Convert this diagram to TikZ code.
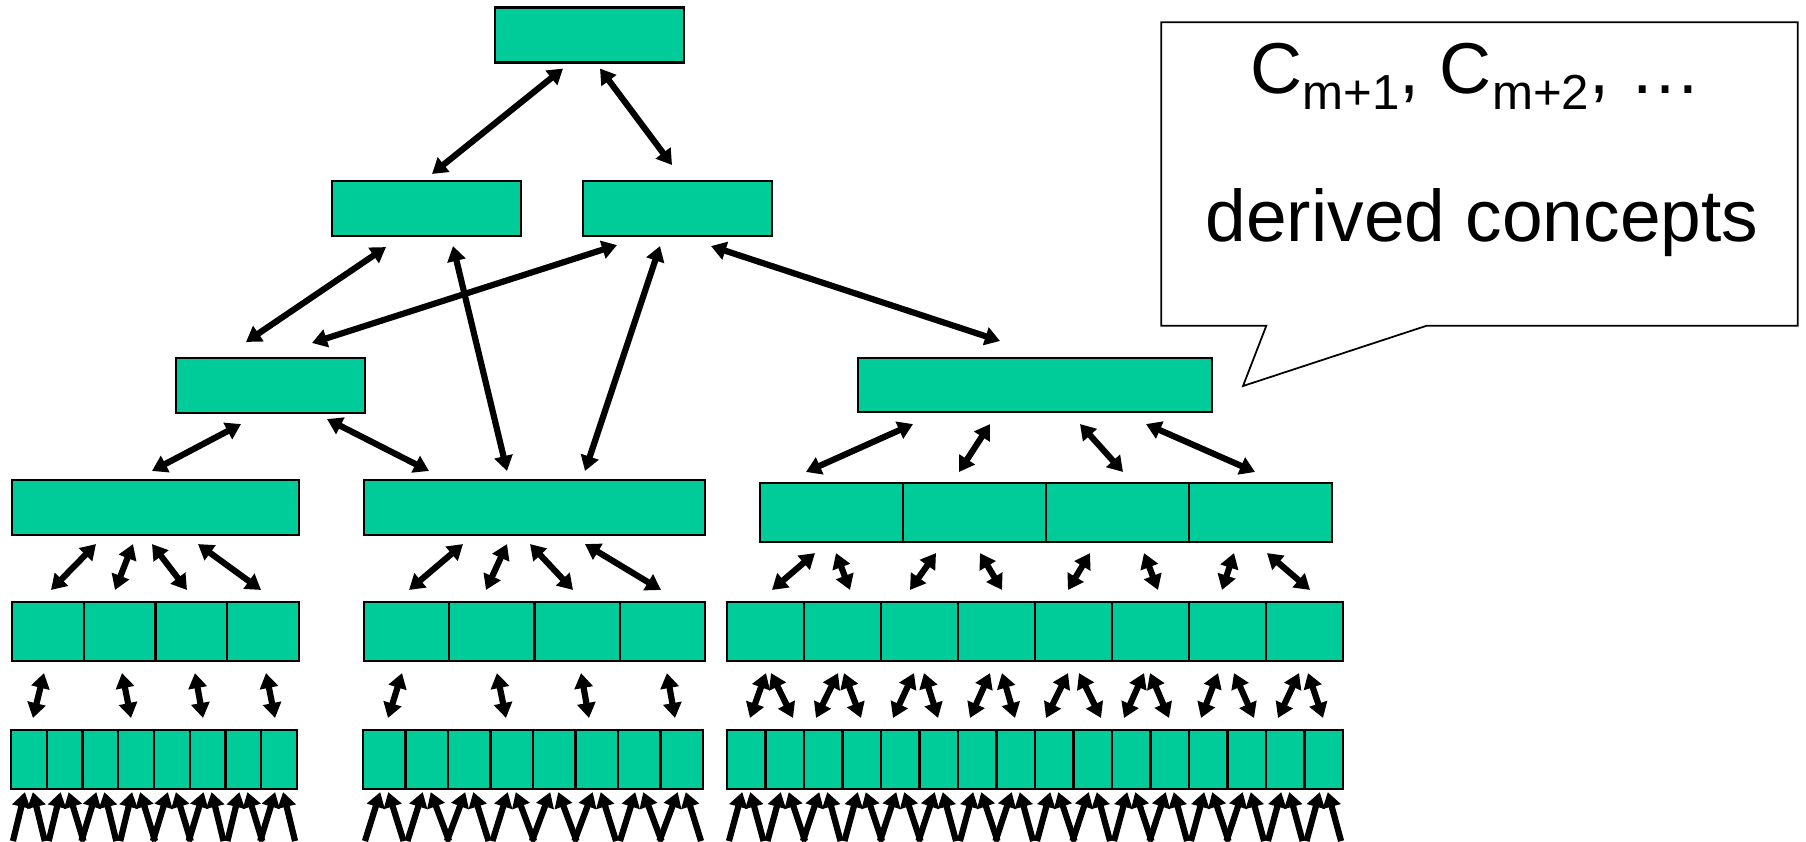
\documentclass[tikz,border=0pt]{standalone}
\usepackage{fontspec}
\setmainfont{Liberation Sans}
\usepackage{tikz}
\usetikzlibrary{arrows.meta}
\definecolor{cellgreen}{HTML}{00CC99}
\newcommand{\subtxt}[1]{\raisebox{-4.6pt}{\fontsize{14}{16}\selectfont #1}}

\begin{document}
\begin{tikzpicture}[x=0.1mm, y=-0.1mm]

  % Define cell and arrow styles
  \tikzset{cell/.style={draw, fill=cellgreen, line width=0.6pt, inner sep=0pt, minimum height=5.5mm},
    link/.style={line width=0.62mm, {Triangle[length=1.5mm,width=1.8mm]}-{Triangle[length=1.5mm,width=1.8mm]}},
    feed/.style={line width=0.62mm, -{Triangle[length=1.5mm,width=1.8mm]}}}

  \useasboundingbox (0,0) rectangle (1806,841);

  % Upper concepts
  \node[cell, minimum width=18.9mm] (top) at (589.5,35) {};
  \node[cell, minimum width=18.9mm] (mL) at (426.5,208.5) {};
  \node[cell, minimum width=18.9mm] (mR) at (677.5,208.5) {};
  \node[cell, minimum width=18.9mm] (lL) at (270.5,385.5) {};
  \node[cell, minimum width=35.4mm, minimum height=5.4mm] (lR) at (1035,385) {};
  \node[cell, minimum width=28.7mm] (A) at (155.5,507.5) {};
  \node[cell, minimum width=34.1mm] (B) at (534.5,507.5) {};
  \foreach \i in {1,...,4}
    \node[cell, minimum width=14.3mm, minimum height=5.9mm] (C\i) at ({760+143*(\i-0.5)},512.5) {};

  % Middle row of cells
  \foreach \i in {1,...,4} {
    \node[cell, minimum width=7.175mm, minimum height=5.9mm] (a\i) at ({12+71.75*(\i-0.5)},631.5) {};
    \node[cell, minimum width=8.525mm, minimum height=5.9mm] (b\i) at ({364+85.25*(\i-0.5)},631.5) {};
  }
  \foreach \i in {1,...,8}
    \node[cell, minimum width=7.7mm, minimum height=5.9mm] (c\i) at ({727+77*(\i-0.5)},631.5) {};

  % Bottom row of cells
  \foreach \i in {1,...,8} {
    \node[cell, minimum width=3.575mm, minimum height=5.9mm] (x\i) at ({11+35.75*(\i-0.5)},759.5) {};
    \node[cell, minimum width=4.25mm, minimum height=5.9mm] (y\i) at ({363+42.5*(\i-0.5)},759.5) {};
  }
  \foreach \i in {1,...,16}
    \node[cell, minimum width=3.85mm, minimum height=5.9mm] (z\i) at ({727+38.5*(\i-0.5)},759.5) {};

  % Links between upper concepts
  \draw[link] ([shift={(-26.5,5)}]top.south) -- ([shift={(5.5,-6)}]mL.north);
  \draw[link] ([shift={(10.5,5)}]top.south) -- ([shift={(-5.5,-15)}]mR.north);
  \draw[link] ([shift={(-40.5,10)}]mL.south) -- ([shift={(-24.5,-15)}]lL.north);
  \draw[link] ([shift={(-60.5,8)}]mR.south) -- ([shift={(41.5,-14)}]lL.north);
  \draw[link] ([shift={(26.5,9)}]mL.south) -- ([shift={(-27.5,-8)}]B.north);
  \draw[link] ([shift={(-17.5,9)}]mR.south) -- ([shift={(50.5,-8)}]B.north);
  \draw[link] ([shift={(33.5,9)}]mR.south) -- ([shift={(-35,-16)}]lR.north);
  \draw[link] ([shift={(-29.5,10)}]lL.south) -- ([shift={(-3.5,-8)}]A.north);
  \draw[link] ([shift={(56.5,5)}]lL.south) -- ([shift={(-105.5,-8)}]B.north);
  \foreach \i/\p/\q in {1/-122/-25.5, 2/-45/-15.5, 3/45/5.5, 4/111/-5.5}
    \draw[link] ([shift={(\p,11)}]lR.south) -- ([shift={(\q,-10)}]C\i.north);

  % Links down to the middle row
  \foreach \i/\p/\q in {1/-59.5/3.1, 2/-22.5/-4.6, 3/-3.5/-4.4, 4/42.5/-2.1}
    \draw[link] ([shift={(\p,8)}]A.south) -- ([shift={(\q,-11)}]a\i.north);
  \foreach \i/\p/\q in {1/-71.5/2.4, 2/-27.5/-5.9, 3/-4.5/-4.1, 4/50.5/-1.4}
    \draw[link] ([shift={(\p,8)}]B.south) -- ([shift={(\q,-11)}]b\i.north);
  \foreach \k/\p/\i/\q in {1/-16.5/1/6.5, 1/4.5/2/7.5, 2/-38.5/3/-9.5, 2/5.5/4/5.5,
      3/-27.5/5/-5.5, 3/26.5/6/7.5, 4/-26.5/7/-5.5, 4/6.5/8/5.5}
    \draw[link] ([shift={(\p,10)}]C\k.south) -- ([shift={(\q,-11)}]c\i.north);

  % Links down to the bottom row
  \foreach \i/\p/\j/\q in {1/-3.9/1/4.1, 2/2.4/4/-5.1, 3/3.6/6/-4.6, 4/2.9/8/-4.1}
    \draw[link] ([shift={(\p,11)}]a\i.south) -- ([shift={(\q,-11)}]x\j.north);
  \foreach \i/\p/\j/\q in {1/-4.6/1/3.75, 2/5.1/4/-5.75, 3/3.9/6/-7.75, 4/4.6/8/-6.75}
    \draw[link] ([shift={(\p,11)}]b\i.south) -- ([shift={(\q,-11)}]y\j.north);
  \foreach \k/\p/\j/\q in {1/0.5/1/3.75, 1/5.5/2/8.25, 2/-4.5/3/-7.25, 2/1.5/4/-0.75,
      3/-5.5/5/-7.25, 3/4.5/6/-0.75, 4/-6.5/7/-7.25, 4/5.5/8/-0.75,
      5/-5.5/9/-8.25, 5/5.5/10/8.25, 6/-6.5/11/-7.25, 6/-0.5/12/-0.75,
      7/-9.5/13/-7.25, 7/6.5/14/7.25, 8/-5.5/15/-7.25, 8/3.5/16/-0.75}
    \draw[link] ([shift={(\p,11)}]c\k.south) -- ([shift={(\q,-11)}]z\j.north);

  % Inputs into the bottom row
  \foreach \s/\a/\b in {x/1/1, x/2/3, x/4/6, x/7/8, y/1/1, y/2/3, y/4/6, y/7/8,
      z/1/1, z/2/3, z/4/6, z/7/8, z/9/10, z/11/12, z/13/14, z/15/15, z/16/16}
    \foreach \i in {\a,...,\b} {
      \pgfmathsetmacro\inl{(\i==\a)*3}
      \pgfmathsetmacro\inr{(\i==\b)*3}
      \draw[feed] ([shift={(\inl,51)}]\s\i.south west) -- ([shift={(-4,2)}]\s\i.south);
      \draw[feed] ([shift={(-\inr,51)}]\s\i.south east) -- ([shift={(4,2)}]\s\i.south);
    }

  % Callout
  \coordinate (tip) at (1243,386);
  \node[minimum width=63.5mm, minimum height=30.2mm, inner sep=0pt] (note) at (1479.5,174) {};
  \draw[line width=0.5pt, line join=miter] (note.north west) -- (note.north east) -- (note.south east)
    -- ([shift={(-371,0)}]note.south east) -- (tip) -- ([shift={(105,0)}]note.south west)
    -- (note.south west) -- cycle;
  \node[font=\fontsize{20.5}{24}\selectfont, anchor=base, inner sep=0pt] (names) at (1476,93)
    {C\subtxt{m+1}, C\subtxt{m+2}, …};
  \node[font=\fontsize{20.8}{24}\selectfont, anchor=base, inner sep=0pt] (derived) at (1482,241)
    {derived concepts};

\end{tikzpicture}
\end{document}
